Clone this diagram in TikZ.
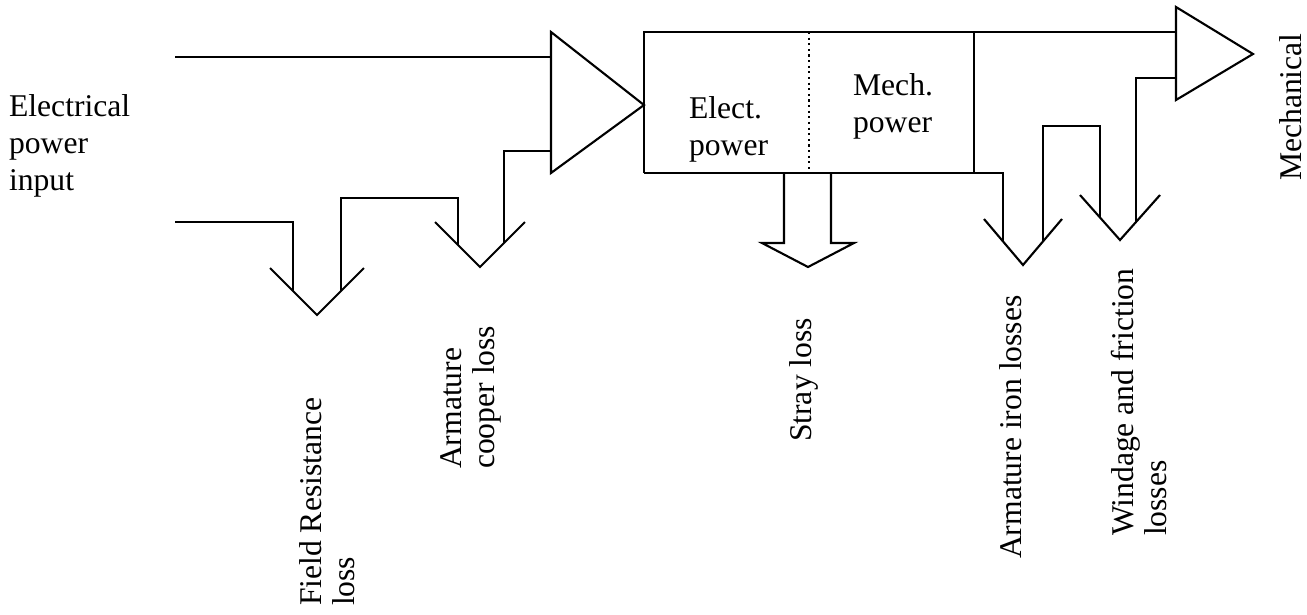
\documentclass[tikz,border=0pt]{standalone}
\usepackage{fontspec}
\setmainfont{Liberation Serif}
\begin{document}
\begin{tikzpicture}[line width=0.6pt, line join=miter,
    lbl/.style={anchor=base west, inner sep=0, align=left, font=\fontsize{9}{10.5}\selectfont},
    vlbl/.style={lbl, rotate=90, font=\fontsize{9}{9.3}\selectfont}]
    \useasboundingbox (0, 0) rectangle (13.07, 6.14);

    % top and bottom of the machine box
    \pgfmathsetmacro{\yt}{5.82};
    \pgfmathsetmacro{\yb}{4.41};

    % input side
    \draw (1.75, 5.57) -- (5.51, 5.57);
    \draw (1.75, 3.92) -- (2.93, 3.92) -- (2.93, 3.23);
    \draw (2.70, 3.46) -- (3.17, 2.99) -- (3.64, 3.46);
    \draw (3.41, 3.23) -- (3.41, 4.16) -- (4.58, 4.16) -- (4.58, 3.69);
    \draw (4.35, 3.92) -- (4.80, 3.47) -- (5.25, 3.92);
    \draw (5.04, 3.71) -- (5.04, 4.63) -- (5.51, 4.63);
    \draw (5.51, \yt) -- (5.51, \yb) -- (6.44, 5.09) -- cycle;

    % machine box
    \draw (6.44, \yb) -- (6.44, \yt) -- (11.76, \yt);
    \draw [densely dotted] (8.09, \yt) -- (8.09, \yb);
    \draw (9.74, \yt) -- (9.74, \yb);
    \draw (6.44, \yb) -- (10.03, \yb) -- (10.03, 3.73);
%    \draw (7.84, \yb) -- (8.31, \yb);
    \draw (7.84, \yb) -- (7.84, 3.71) -- (7.62, 3.71) -- (8.08, 3.47) -- (8.54, 3.71) -- (8.31, 3.71) -- (8.31, \yb);

    % output side
    \draw (9.84, 3.95) -- (10.23, 3.49) -- (10.62, 3.95);
    \draw (10.43, 3.73) -- (10.43, 4.88) -- (11.00, 4.88) -- (11.00, 3.96);
    \draw (10.80, 4.19) -- (11.20, 3.74) -- (11.60, 4.19);
    \draw (11.36, 3.92) -- (11.36, 5.36) -- (11.76, 5.36);
    \draw (11.76, 6.07) -- (11.76, 5.14) -- (12.53, 5.60) -- cycle;

    % multi-line labels sit on the baseline of their last line
    \node [lbl] (input) at (0.08, 4.24) {Electrical\\power\\input};
    \node [lbl] (elec) at (6.88, 4.59) {Elect.\\power};
    \node [lbl] (mech) at (8.52, 4.82) {Mech.\\power};
    \node [vlbl] (field) at (3.54, 0.07) {Field Resistance\\loss};
    \node [vlbl] (copper) at (4.94, 1.44) {Armature\\cooper loss};
    \node [vlbl] (stray) at (8.11, 1.71) {Stray loss};
    \node [vlbl] (iron) at (10.21, 0.54) {Armature iron losses};
    \node [vlbl] (wind) at (11.66, 0.77) {Windage and friction\\losses};
    \node [vlbl] (out) at (13.01, 4.32) {Mechanical};
  \end{tikzpicture}
\end{document}
